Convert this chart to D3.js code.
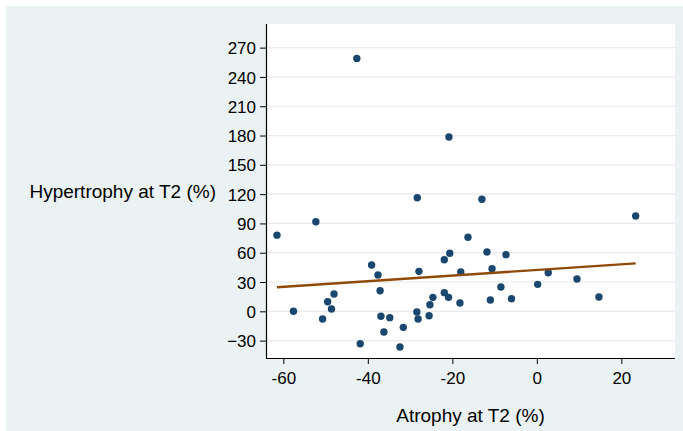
<!DOCTYPE html>
<html>
<head>
<meta charset="utf-8">
<script src="https://cdn.jsdelivr.net/npm/d3@7"></script>
<style>
  html, body { margin: 0; padding: 0; background: #fff; }
  svg { display: block; font-family: "Liberation Sans", Arial, sans-serif; }
</style>
</head>
<body>
<svg id="chart" width="683" height="431"></svg>
<script>
// Scatter data: atrophy (x) vs hypertrophy (y), both at T2 (%)
const atrophy = [
  -42.6, -61.5, -52.3, -28.3, -20.8, -13.0, -16.3, 23.4, -57.6, -50.7,
  -49.5, -48.6, -48.0, -41.8, -39.1, -37.6, -37.1, -36.9, -36.2, -34.8,
  -32.4, -31.6, -28.4, -28.1, -27.9, -25.5, -25.3, -24.6, -21.9, -21.9,
  -20.9, -20.6, -18.2, -18.0, -11.8, -11.0, -10.6, -8.5, -7.3, -6.0,
  0.2, 2.7, 9.5, 14.7
];
const hypertrophy = [
  259, 78, 91.7, 116.3, 178.5, 114.7, 75.8, 97.6, 0, -7.9,
  9.8, 2.4, 17.7, -33.2, 47.4, 37.2, 21.1, -5.1, -21.2, -6.5,
  -36.6, -16.4, -0.7, -7.9, 40.9, -4.5, 6.8, 14.3, 52.8, 19.1,
  14.3, 59.4, 8.5, 40.2, 60.7, 11.6, 43.6, 24.9, 58.0, 12.9,
  27.6, 39.5, 33.1, 14.6
];

// Fitted line end points
const fitX = [-61.5, 23.4];
const fitY = [24.6, 49.1];

const xTicks = [-60, -40, -20, 0, 20];
const yTicks = [-30, 0, 30, 60, 90, 120, 150, 180, 210, 240, 270];

const svg = d3.select("#chart");
const W = 683, H = 431;
const plot = { left: 266, right: 675, top: 24, bottom: 358 };

// Outer background
svg.append("rect")
  .attr("x", 6).attr("y", 6)
  .attr("width", W - 6).attr("height", H - 6)
  .attr("fill", "#eaf2f3");

svg.append("rect")
  .attr("x", plot.left).attr("y", plot.top)
  .attr("width", plot.right - plot.left)
  .attr("height", plot.bottom - plot.top)
  .attr("fill", "#fff");

const x = d3.scaleLinear().domain([-64.1, 32.7]).range([plot.left, plot.right]);
const y = d3.scaleLinear().domain([-47.8, 294.2]).range([plot.bottom, plot.top]);

// Gridlines
svg.append("g")
  .selectAll("line")
  .data(yTicks)
  .join("line")
  .attr("x1", plot.left).attr("x2", plot.right)
  .attr("y1", (d) => y(d)).attr("y2", (d) => y(d))
  .attr("stroke", "#eaeaea")
  .attr("stroke-width", 1.2);

// Axes
const yAxis = svg.append("g")
  .attr("transform", `translate(${plot.left},0)`)
  .call(d3.axisLeft(y).tickValues(yTicks).tickSize(6).tickPadding(4).tickSizeOuter(0));
const xAxis = svg.append("g")
  .attr("transform", `translate(0,${plot.bottom})`)
  .call(d3.axisBottom(x).tickValues(xTicks).tickSize(6).tickPadding(8).tickSizeOuter(0)
    .tickFormat((d) => String(d).replace("\u2212", "-")));

[yAxis, xAxis].forEach((ax) => {
  ax.select(".domain").attr("stroke", "#000").attr("stroke-width", 1.2);
  ax.selectAll(".tick line").attr("stroke", "#000").attr("stroke-width", 1);
  ax.selectAll(".tick text")
    .attr("font-size", "17px")
    .attr("fill", "#000")
    .attr("font-family", "Liberation Sans, Arial, sans-serif");
});
yAxis.select(".domain").attr("d", `M0.5,${plot.top}V${plot.bottom}`);
xAxis.select(".domain").attr("d", `M${plot.left},0.5H${plot.right}`);
yAxis.selectAll(".tick text").attr("dy", "0.36em");

// Points
svg.append("g")
  .selectAll("circle")
  .data(atrophy.map((a, i) => [a, hypertrophy[i]]))
  .join("circle")
  .attr("cx", (d) => x(d[0]))
  .attr("cy", (d) => y(d[1]))
  .attr("r", 3.7)
  .attr("fill", "#1a476f");

// Fitted line
svg.append("line")
  .attr("x1", x(fitX[0])).attr("y1", y(fitY[0]))
  .attr("x2", x(fitX[1])).attr("y2", y(fitY[1]))
  .attr("stroke", "#904a08")
  .attr("stroke-width", 2.4);

// Axis titles
svg.append("text")
  .attr("x", (plot.left + plot.right) / 2)
  .attr("y", 421.5)
  .attr("text-anchor", "middle")
  .attr("font-size", "19px")
  .text("Atrophy at T2 (%)");

svg.append("text")
  .attr("x", 216)
  .attr("y", 198)
  .attr("text-anchor", "end")
  .attr("font-size", "19px")
  .text("Hypertrophy at T2 (%)");
</script>
</body>
</html>
